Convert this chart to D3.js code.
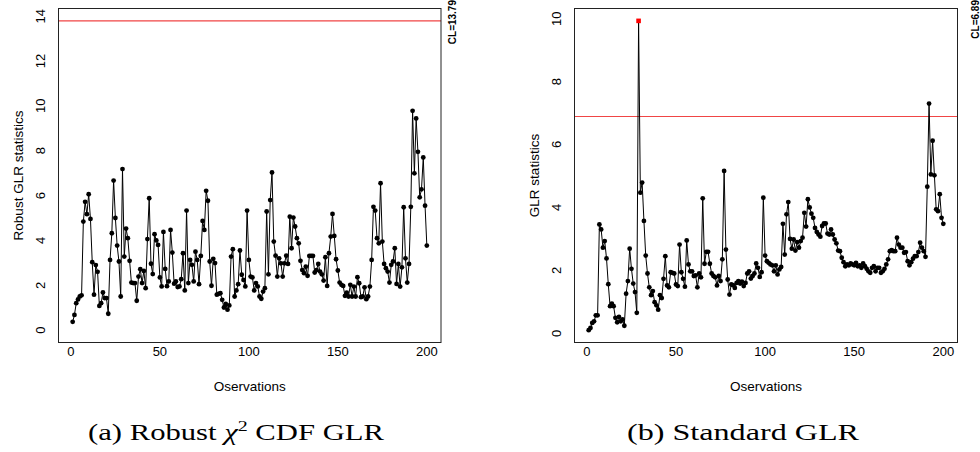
<!DOCTYPE html>
<html>
<head>
<meta charset="utf-8">
<script src="https://cdn.jsdelivr.net/npm/d3@7"></script>
<style>
  body { margin: 0; background: #fff; }
  svg { display: block; }
</style>
</head>
<body>
<div id="chart"></div>
<script>
// observation index 1..200
const observations = d3.range(1, 201);

// (a) robust chi^2 CDF GLR statistic
const robustGlr = [
  0.37, 0.68, 1.20, 1.37, 1.50, 1.55, 4.84, 5.72, 5.17, 6.06,
  4.96, 3.03, 1.58, 2.90, 2.60, 1.08, 1.20, 1.68, 1.43, 1.43,
  0.73, 3.13, 4.32, 6.67, 5.00, 3.77, 3.06, 1.50, 7.18, 3.28,
  4.53, 4.10, 3.09, 2.12, 2.10, 2.10, 1.31, 2.39, 2.72, 2.10,
  2.64, 1.87, 4.06, 5.88, 2.96, 2.50, 4.28, 4.00, 3.80, 2.35,
  1.95, 4.38, 2.73, 1.96, 2.17, 4.47, 3.46, 2.07, 2.17, 1.92,
  1.95, 2.27, 3.43, 1.77, 5.33, 2.10, 3.13, 2.91, 2.17, 3.50,
  3.13, 2.05, 3.31, 4.87, 4.47, 6.21, 5.77, 3.06, 1.98, 3.18,
  2.99, 1.58, 1.62, 1.65, 1.35, 1.01, 1.17, 0.91, 1.10, 3.28,
  3.61, 1.50, 1.77, 2.05, 3.55, 2.47, 2.24, 1.95, 5.33, 3.13,
  2.39, 2.35, 1.77, 2.10, 1.95, 1.50, 1.40, 1.72, 1.87, 5.29,
  2.49, 5.80, 7.03, 3.95, 3.32, 2.39, 3.20, 2.98, 2.39, 2.98,
  3.32, 2.95, 5.06, 3.65, 5.02, 4.62, 4.10, 3.87, 3.09, 2.68,
  2.54, 2.83, 2.42, 3.31, 3.31, 3.31, 2.57, 2.68, 2.95, 2.61,
  2.49, 2.21, 3.25, 1.97, 3.43, 4.17, 5.18, 4.20, 3.16, 2.66,
  2.12, 2.02, 1.97, 1.53, 1.67, 1.50, 2.02, 1.50, 1.94, 1.50,
  2.36, 2.09, 1.47, 1.50, 1.91, 1.38, 1.50, 1.94, 3.13, 5.50,
  5.33, 4.10, 3.87, 6.55, 3.95, 2.95, 2.76, 2.61, 2.12, 2.91,
  3.06, 3.65, 2.06, 2.95, 1.94, 2.80, 5.48, 3.20, 2.12, 2.95,
  5.50, 9.78, 6.99, 9.44, 7.95, 5.92, 6.28, 7.70, 5.55, 3.77
];

// (b) standard GLR statistic
const standardGlr = [
  0.10, 0.17, 0.33, 0.38, 0.57, 0.57, 3.46, 3.30, 2.72, 2.93,
  2.38, 1.56, 0.86, 0.94, 0.86, 0.49, 0.35, 0.52, 0.38, 0.44,
  0.24, 1.26, 1.66, 2.69, 2.05, 1.58, 1.31, 0.65, 9.93, 4.47,
  4.79, 3.57, 2.47, 1.90, 1.46, 1.21, 1.34, 0.99, 0.89, 0.75,
  1.21, 1.12, 1.73, 2.45, 1.52, 1.46, 1.94, 1.92, 1.90, 1.55,
  1.50, 2.82, 1.94, 1.73, 1.48, 2.95, 2.19, 1.97, 1.97, 1.82,
  1.84, 1.46, 1.90, 1.78, 4.29, 2.21, 2.59, 2.59, 2.21, 1.90,
  1.82, 1.78, 1.52, 1.82, 1.66, 2.35, 5.16, 2.66, 1.71, 1.23,
  1.55, 1.53, 1.44, 1.60, 1.66, 1.58, 1.64, 1.50, 1.60, 1.90,
  1.97, 1.74, 1.82, 1.90, 2.22, 2.08, 1.79, 1.94, 4.31, 2.47,
  2.29, 2.24, 2.19, 2.16, 1.97, 2.16, 1.87, 2.03, 2.11, 3.48,
  2.50, 3.78, 4.17, 3.00, 2.69, 2.98, 2.63, 2.90, 2.72, 2.93,
  3.04, 3.83, 3.39, 4.26, 4.00, 3.80, 3.67, 3.35, 3.22, 3.14,
  3.07, 3.41, 3.49, 3.49, 3.17, 3.14, 3.30, 3.14, 2.98, 2.86,
  2.63, 2.61, 2.40, 2.26, 2.13, 2.19, 2.16, 2.22, 2.19, 2.16,
  2.24, 2.13, 2.16, 2.08, 2.22, 2.13, 2.05, 1.97, 1.92, 2.08,
  2.13, 1.97, 2.08, 2.08, 1.92, 1.97, 2.05, 2.19, 2.35, 2.61,
  2.64, 2.61, 2.61, 3.04, 2.82, 2.72, 2.72, 2.56, 2.58, 2.29,
  2.16, 2.26, 2.37, 2.45, 2.45, 2.58, 2.88, 2.72, 2.61, 2.43,
  4.66, 7.30, 5.05, 6.12, 5.02, 3.94, 3.88, 4.42, 3.67, 3.48
];

// control limits
const robustCL = 13.79;
const standardCL = 6.89;

// tick labels
const xTicks = [0, 50, 100, 150, 200];
const robustYTicks = [0, 2, 4, 6, 8, 10, 12, 14];
const standardYTicks = [0, 2, 4, 6, 8, 10];

const xTitle = "Oservations";
const robustYTitle = "Robust GLR statistics";
const standardYTitle = "GLR statistics";


// -------------------------------------------------------------- //
// --------------------- Initializing the svg ------------------- //
// -------------------------------------------------------------- //
const width = 980;
const height = 452;
const sans = "'Liberation Sans', Arial, sans-serif";
const serif = "'Liberation Serif', 'Times New Roman', serif";

const svg = d3.select("#chart").append("svg")
    .attr("width", width)
    .attr("height", height)
    .attr("viewBox", [0, 0, width, height]);

// R style axis range: data range stretched by 4% on each side
function pad(lo, hi) {
    const r = hi - lo;
    return [lo - 0.04 * r, hi + 0.04 * r];
}

function drawPanel(opts) {
    const { box, values, cl, clOffset, yTicks, yTitle, yDomain, markAlarm } = opts;

    const x = d3.scaleLinear()
        .domain(pad(d3.min(observations), d3.max(observations)))
        .range([box.left, box.right]);

    const y = d3.scaleLinear()
        .domain(yDomain)
        .range([box.bottom, box.top]);

    const g = svg.append("g");

    // control limit
    g.append("line")
        .attr("x1", box.left).attr("x2", box.right)
        .attr("y1", y(cl)).attr("y2", y(cl))
        .attr("stroke", "#f04545")
        .attr("stroke-width", 1.2);

    // ------------------- axis labels (no tick marks) -------------- //
    g.selectAll(".xtick")
        .data(xTicks)
        .join("text")
        .attr("x", d => x(d))
        .attr("y", box.bottom + 13.5)
        .attr("text-anchor", "middle")
        .attr("font-family", sans)
        .attr("font-size", 13)
        .text(d => d);

    g.selectAll(".ytick")
        .data(yTicks)
        .join("text")
        .attr("transform", d => `translate(${box.left - 18},${y(d)}) rotate(-90)`)
        .attr("dy", "0.35em")
        .attr("text-anchor", "middle")
        .attr("font-family", sans)
        .attr("font-size", 13)
        .text(d => d);

    g.append("text")
        .attr("x", (box.left + box.right) / 2)
        .attr("y", box.bottom + 48)
        .attr("text-anchor", "middle")
        .attr("font-family", sans)
        .attr("font-size", 13.5)
        .text(xTitle);

    g.append("text")
        .attr("transform", `translate(${box.left - 40},${(box.top + box.bottom) / 2}) rotate(-90)`)
        .attr("dy", "0.35em")
        .attr("text-anchor", "middle")
        .attr("font-family", sans)
        .attr("font-size", 13.5)
        .text(yTitle);

    // CL value in the right margin
    g.append("text")
        .attr("transform", `translate(${box.right + clOffset},0) rotate(-90)`)
        .attr("dy", "0.35em")
        .attr("text-anchor", "end")
        .attr("font-family", sans)
        .attr("font-weight", "bold")
        .attr("font-size", 10)
        .text("CL=" + cl);

    // --------------------------- series --------------------------- //
    const pts = observations.map((o, i) => ({ o, v: values[i], i }));
    const alarm = markAlarm ? values.findIndex(v => v > cl) : -1;

    g.append("path")
        .datum(pts)
        .attr("fill", "none")
        .attr("stroke", "#000")
        .attr("stroke-width", 1)
        .attr("d", d3.line().x(d => x(d.o)).y(d => y(d.v)));

    g.selectAll(".pt")
        .data(pts.filter(d => d.i !== alarm))
        .join("circle")
        .attr("cx", d => x(d.o))
        .attr("cy", d => y(d.v))
        .attr("r", 2.4)
        .attr("fill", "#000");

    if (alarm >= 0) {
        const a = pts[alarm];
        g.append("rect")
            .attr("x", x(a.o) - 2.3)
            .attr("y", y(a.v) - 2.3)
            .attr("width", 4.6)
            .attr("height", 4.6)
            .attr("fill", "#ff0000");
    }

    // plot frame
    g.append("rect")
        .attr("x", box.left).attr("y", box.top)
        .attr("width", box.right - box.left)
        .attr("height", box.bottom - box.top)
        .attr("fill", "none")
        .attr("stroke", "#222")
        .attr("stroke-width", 1);
}

drawPanel({
    box: { left: 58.5, right: 441, top: 8.5, bottom: 342.5 },
    values: robustGlr,
    cl: robustCL,
    clOffset: 11,
    yTicks: robustYTicks,
    yTitle: robustYTitle,
    yDomain: pad(0, robustCL),
    markAlarm: false
});

drawPanel({
    box: { left: 574.5, right: 957.5, top: 8.5, bottom: 342.5 },
    values: standardGlr,
    cl: standardCL,
    clOffset: 18,
    yTicks: standardYTicks,
    yTitle: standardYTitle,
    yDomain: pad(d3.min(standardGlr), d3.max(standardGlr)),
    markAlarm: true
});

// -------------------------------------------------------------- //
// --------------------------- captions ------------------------- //
// -------------------------------------------------------------- //
// the LaTeX captions are wider than Times; stretch to the same span
function fitCaption(sel, x0, x1) {
    const w = sel.node().getBBox().width;
    sel.attr("transform", `translate(${x0},0) scale(${(x1 - x0) / w},1)`);
}

const capA = svg.append("text")
    .attr("x", 0)
    .attr("y", 440)
    .attr("font-family", serif)
    .attr("font-size", 23);
capA.append("tspan").text("(a) Robust ");
capA.append("tspan").attr("font-style", "italic").text("χ");
capA.append("tspan").attr("font-size", 15).attr("dy", -9).text("2");
capA.append("tspan").attr("dy", 9).text(" CDF GLR");
fitCaption(capA, 88, 385);

const capB = svg.append("text")
    .attr("x", 0)
    .attr("y", 440)
    .attr("font-family", serif)
    .attr("font-size", 23)
    .text("(b) Standard GLR");
fitCaption(capB, 627, 860);
</script>
</body>
</html>
